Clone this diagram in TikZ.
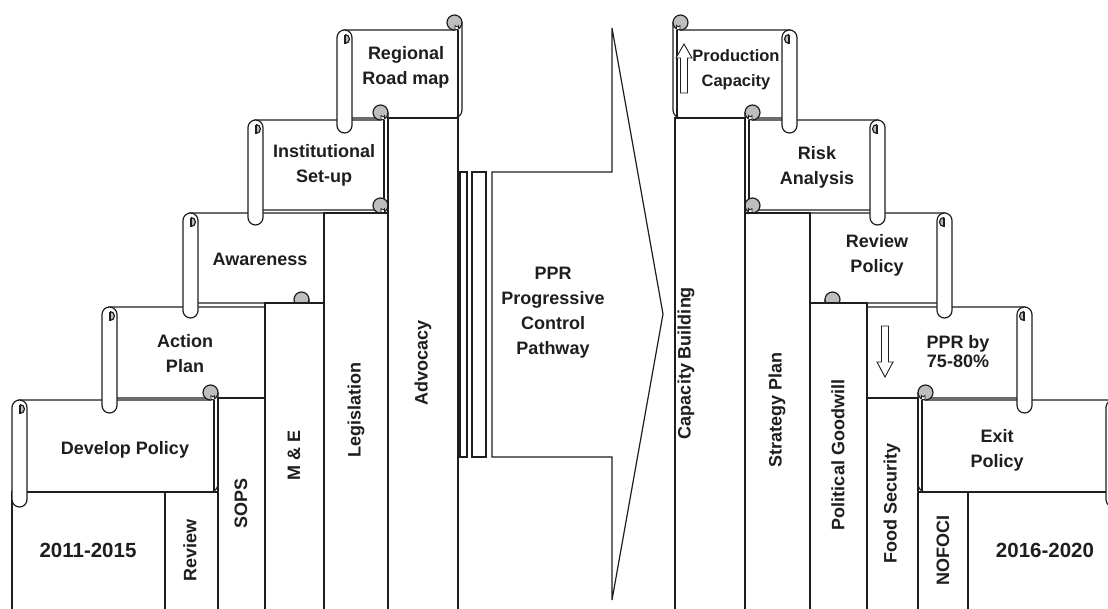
\documentclass[tikz,border=0pt]{standalone}
\usepackage{fontspec}
\setmainfont{Liberation Sans}
\definecolor{ink}{HTML}{1E1E1E}
\definecolor{curlgray}{HTML}{BEBEBE}
\tikzset{
  ln/.style={draw=ink, line width=1.2pt},
  lbl/.style={text=ink, font=\bfseries\fontsize{18}{25}\selectfont, align=center, inner sep=0pt},
  vlbl/.style={lbl, rotate=90},
  yrlbl/.style={text=ink, font=\bfseries\fontsize{20.5}{24}\selectfont, inner sep=0pt},
}
\newcommand\ScrBody[4]{%
  \filldraw[ln, fill=white] ({#3},{#4-8}) [rounded corners=8pt] -- ({#3},{#4}) -- ({#1+7},{#4}) [sharp corners] -- ({#1+7},{#2}) -- ({#3-7.5},{#2}) -- ({#3-7.5},{#2-7.5}) -- ({#3},{#2-7.5}) -- cycle;
  \draw[ln] ({#3-4},{#2}) -- ({#3-4},{#4});
}
\newcommand\ScrCurl[4]{%
  \filldraw[ln, fill=curlgray] ({#3-7.5},{#2-7.5}) circle[radius=7.5];
  \fill[white] ({#3-7},{#2-4.5}) rectangle ({#3-3.5},{#2-0.9});
  \draw[ink, line width=0.7pt] ({#3-7},{#2-0.9}) -- ({#3-7},{#2-4.5}) -- ({#3-5},{#2-3}) -- ({#3-3.5},{#2-4.5}) -- ({#3-3.5},{#2-0.9});
}
\newcommand\ScrTube[4]{%
  \filldraw[ln, fill=white, rounded corners=7.5pt] ({#1},{#2}) rectangle ({#1+15},{#4+15});
  \begin{scope}
    \clip ({#1+8},{#2}) rectangle ({#1+16},{#2+20});
    \filldraw[ln, fill=curlgray] ({#1+8},{#2+9}) circle[radius=4.5];
  \end{scope}
  \draw[ln] ({#1+8},{#2+4.5}) -- ({#1+8},{#2+13.5});
}
\newcommand\ColBox[3]{\filldraw[ln, fill=white] ({#1},{#3}) rectangle ({#2},615);}
\begin{document}
\begin{tikzpicture}[x=1pt,y=-1pt]
\useasboundingbox (0,0) rectangle (1108,608);
\clip (0,0) rectangle (1108,608);
% ---- scroll bodies
\ScrBody{337}{30}{462}{118}
\ScrBody{248}{120}{388}{210}
\ScrBody{183}{213}{388}{303}
\ScrBody{102}{307}{309}{398}
\ScrBody{12}{400}{218}{492}
\begin{scope}[xscale=-1]
\ScrBody{-797}{30}{-673}{118}
\ScrBody{-885}{120}{-745}{210}
\ScrBody{-952}{213}{-745}{303}
\ScrBody{-1032}{307}{-825}{398}
\ScrBody{-1121}{400}{-918}{492}
\end{scope}
% ---- curls
\ScrCurl{337}{30}{462}{118}
\ScrCurl{248}{120}{388}{210}
\ScrCurl{183}{213}{388}{303}
\ScrCurl{102}{307}{309}{398}
\ScrCurl{12}{400}{218}{492}
\begin{scope}[xscale=-1]
\ScrCurl{-797}{30}{-673}{118}
\ScrCurl{-885}{120}{-745}{210}
\ScrCurl{-952}{213}{-745}{303}
\ScrCurl{-1032}{307}{-825}{398}
\ScrCurl{-1121}{400}{-918}{492}
\end{scope}
% ---- columns
\ColBox{12}{165}{492}
\ColBox{165}{218}{492}
\ColBox{218}{265}{398}
\ColBox{265}{324}{303}
\ColBox{324}{388}{213}
\ColBox{388}{458}{118}
\ColBox{675}{745}{118}
\ColBox{745}{810}{213}
\ColBox{810}{867}{303}
\ColBox{867}{918}{398}
\ColBox{918}{968}{492}
\ColBox{968}{1115}{492}
% ---- tubes
\ScrTube{337}{30}{462}{118}
\ScrTube{248}{120}{388}{210}
\ScrTube{183}{213}{388}{303}
\ScrTube{102}{307}{309}{398}
\ScrTube{12}{400}{218}{492}
\begin{scope}[xscale=-1]
\ScrTube{-797}{30}{-673}{118}
\ScrTube{-885}{120}{-745}{210}
\ScrTube{-952}{213}{-745}{303}
\ScrTube{-1032}{307}{-825}{398}
\ScrTube{-1121}{400}{-918}{492}
\end{scope}
% ---- middle arrow and bars
\draw[ln] (460,172) rectangle (467,457);
\draw[ln] (472,172) rectangle (486,457);
\filldraw[ln, fill=white] (492,172) -- (612,172) -- (612,28) -- (663,314) -- (612,600) -- (612,457) -- (492,457) -- cycle;
% ---- block arrows
\filldraw[ln, line width=0.9pt, fill=white] (680.5,93) -- (680.5,58) -- (676,58) -- (684,44) -- (692,58) -- (687.5,58) -- (687.5,93) -- cycle;
\filldraw[ln, line width=0.9pt, fill=white] (881.5,326) -- (888.5,326) -- (888.5,362) -- (893,362) -- (885,377) -- (877,362) -- (881.5,362) -- cycle;
% ---- texts
\node[lbl] (tRoad) at (406,67) {Regional\\Road map};
\node[lbl] (tInst) at (324,165) {Institutional\\Set-up};
\node[lbl] (tAware) at (260,259) {Awareness};
\node[lbl] (tAction) at (185,354) {Action\\Plan};
\node[lbl] (tDev) at (125,450) {Develop Policy};
\node[yrlbl] (tY1) at (88,550) {2011-2015};
\node[vlbl] (tRev) at (190,550) {Review};
\node[vlbl] (tSops) at (241,503) {SOPS};
\node[vlbl] (tME) at (294,455) {M \& E};
\node[vlbl] (tLeg) at (356,410) {Legislation};
\node[vlbl] (tAdv) at (423,363) {Advocacy};
\node[lbl] (tPPR) at (553,313) {PPR\\Progressive\\Control\\Pathway};
\node[lbl, font=\bfseries\fontsize{16.5}{25}\selectfont] (tProd) at (736,70) {Production\\Capacity};
\node[vlbl] (tCap) at (686,363) {Capacity Building};
\node[lbl] (tRisk) at (817,167) {Risk\\Analysis};
\node[vlbl] (tStrat) at (777,410) {Strategy Plan};
\node[lbl] (tRevP) at (877,255) {Review\\Policy};
\node[vlbl] (tPol) at (838,455) {Political Goodwill};
\node[lbl, font=\bfseries\fontsize{18}{19}\selectfont] (tPPRby) at (958,352) {PPR by\\75-80\%};
\node[vlbl] (tFood) at (892,503) {Food Security};
\node[lbl] (tExit) at (997,450) {Exit\\Policy};
\node[vlbl] (tNof) at (943,550) {NOFOCI};
\node[yrlbl] (tY2) at (1045,550) {2016-2020};
\end{tikzpicture}
\end{document}
